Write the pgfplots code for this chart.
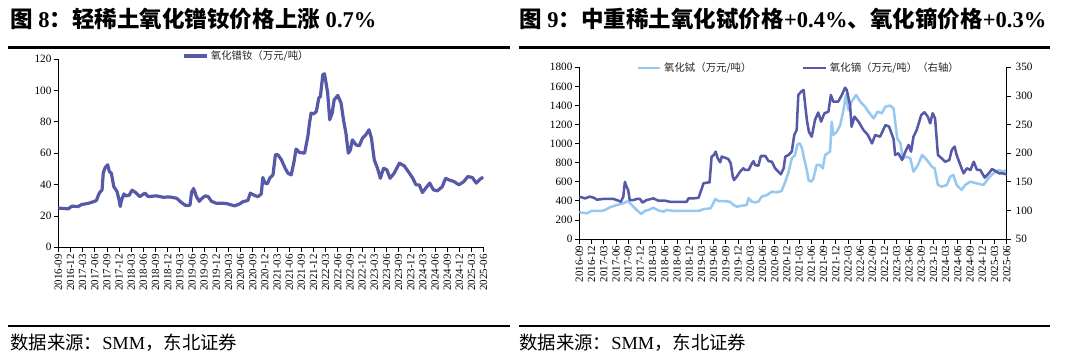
\documentclass[border=0pt]{standalone}
\usepackage{fontspec}
\setmainfont{Liberation Serif}
\newfontfamily\cjk{Noto Sans CJK SC}
\usepackage{pgfplots}
\pgfplotsset{compat=1.18}
\definecolor{darkline}{RGB}{86,88,168}
\definecolor{lightline}{RGB}{150,200,240}
\pgfplotsset{
  common/.style={
    scale only axis,
    xmin=0, xmax=105,
    xtick={0,3,...,105},
    xticklabels={2016-09,2016-12,2017-03,2017-06,2017-09,2017-12,2018-03,2018-06,2018-09,2018-12,2019-03,2019-06,2019-09,2019-12,2020-03,2020-06,2020-09,2020-12,2021-03,2021-06,2021-09,2021-12,2022-03,2022-06,2022-09,2022-12,2023-03,2023-06,2023-09,2023-12,2024-03,2024-06,2024-09,2024-12,2025-03,2025-06},
    xticklabel style={rotate=90, anchor=east, font=\fontsize{8.2}{9}\selectfont, inner sep=1.5pt},
    yticklabel style={font=\fontsize{8.4}{9}\selectfont, inner sep=1.5pt},
    /pgf/number format/assume math mode=true,
    /pgf/number format/1000 sep={},
    tick align=outside,
    major tick length=3.5pt,
    axis line style={black, line width=0.6pt},
    tick style={black, line width=0.6pt},
    legend style={draw=none, fill=none, inner sep=0pt,
      font=\cjk\fontsize{7.8}{9}\selectfont, text=black!85},
    legend image code/.code={\draw[#1] (0pt,0pt) -- (17pt,0pt);},
  }
}
\begin{document}
\begin{tikzpicture}
\useasboundingbox (0,0) rectangle (810pt,267pt);
% titles
\node[anchor=west, inner sep=0pt, font=\fontsize{16.9}{18}\selectfont\bfseries] at (7.5pt,252.75pt)
  {{\cjk 图} 8{\cjk ：轻稀土氧化镨钕价格上涨} 0.7\%};
\node[anchor=west, inner sep=0pt, font=\fontsize{16.9}{18}\selectfont\bfseries] at (389.25pt,252.75pt)
  {{\cjk 图} 9{\cjk ：中重稀土氧化铽价格}+0.4\%{\cjk 、氧化镝价格}+0.3\%};
\draw[line width=1.9pt] (6pt,231.5pt) -- (382.5pt,231.5pt);
\draw[line width=1.9pt] (389.25pt,231.5pt) -- (787.5pt,231.5pt);
\draw[line width=1.4pt] (6pt,22.5pt) -- (382.5pt,22.5pt);
\draw[line width=1.4pt] (389.25pt,22.5pt) -- (787.5pt,22.5pt);
\node[anchor=west, inner sep=0pt, font=\fontsize{13.8}{15}\selectfont] at (7.5pt,9.75pt)
  {{\cjk 数据来源：}SMM{\cjk ，东北证券}};
\node[anchor=west, inner sep=0pt, font=\fontsize{13.8}{15}\selectfont] at (389.25pt,9.75pt)
  {{\cjk 数据来源：}SMM{\cjk ，东北证券}};

% left chart
\begin{axis}[common,
  at={(43.725pt,81.525pt)}, anchor=south west,
  width=319pt, height=141.2pt,
  ymin=0, ymax=120, ytick={0,20,...,120},
  axis x line*=bottom, axis y line*=left,
  legend style={at={(0.291,1.016)}, anchor=west},
]
\addplot[darkline, line width=2.4pt, line join=round] coordinates {
(0,25)(1,24.8)(2,24.6)(2.5,24.5)(3.3,26.2)(4.9,26)(5.8,27.3)(7.4,28)(8.6,29)(9.4,29.8)(10.1,34.5)(10.8,36.6)(11.1,47.5)(11.6,51)(12.2,52.6)(12.6,48.3)(13.1,47.2)(13.7,38.7)(14.5,35.5)(15,30.2)(15.3,26)(15.6,30)(16.2,34)(16.7,32.8)(17.5,33.2)(18.2,36.4)(19.1,34.9)(20.1,32.3)(21.4,34.5)(22.2,32.3)(24.2,32.8)(25.9,31.9)(27.5,32.1)(29.2,31.3)(30.4,28.5)(31.5,26.6)(32.5,26.8)(32.9,35)(33.4,37.5)(34.1,32.3)(34.8,29.3)(35.5,31.3)(36.3,32.8)(37,32.3)(37.8,29.3)(39,28.1)(40.3,28.1)(41.5,27.9)(42.7,27)(43.5,26.4)(44.8,27.7)(45.6,29.1)(46.8,29.8)(47.4,34.5)(48.5,33)(49.3,32.3)(50.1,34)(50.5,44.5)(51,41)(51.6,40.5)(52.2,44)(53,46.2)(53.6,59)(54.2,59)(55.1,55.7)(56,50.4)(56.7,47.2)(57.5,46.2)(58.2,54.7)(58.7,62.6)(59.6,60.4)(60.8,60)(61.6,70.6)(62,79)(62.4,85.5)(63.1,85.1)(63.7,86.6)(64.3,95.1)(64.7,96.2)(65.3,110)(65.7,110.6)(66.1,104.7)(66.5,98.3)(67,81.3)(67.6,85.5)(68.1,94)(69,96.8)(69.8,92)(70.4,81.3)(71,72.8)(71.6,60)(72.1,62)(72.6,68.5)(73.5,65.3)(74.3,64.7)(75.1,69.6)(75.9,71.7)(76.7,74.9)(77.3,69.6)(78,55.7)(78.8,50.4)(79.5,44)(80.3,50.4)(81.1,49.4)(81.9,44)(82.9,47.2)(84.2,53.6)(85.4,51.9)(86.4,48.3)(87.5,44)(88.3,39.8)(89.1,39.8)(89.9,34.9)(90.7,37.7)(91.7,40.9)(92.6,36.6)(93.6,36)(94.8,38.7)(95.6,44)(96.4,43)(97.7,41.9)(98.9,39.8)(100.1,41.9)(101.1,45.1)(102.2,44.5)(103.2,40.9)(104.1,43.4)(104.9,44.7)
};
\addlegendentry{氧化镨钕（万元/吨）}
\end{axis}

% right chart, left axis
\begin{axis}[common,
  at={(434.475pt,87.75pt)}, anchor=south west,
  width=320.55pt, height=128.78pt,
  ymin=0, ymax=1800, ytick={0,200,...,1800},
  axis x line*=bottom, axis y line*=left,
]
\addplot[lightline, line width=1.9pt, line join=round] coordinates {
(0,280)(1.8,269)(3,294)(5.5,294)(6.3,304)(7.5,332)(9.2,356)(10.8,374)(12,398)(12.9,356)(14.1,304)(15.2,262)(16.1,294)(17.4,311)(18.2,328)(19.4,300)(20.7,287)(21.5,304)(23.1,294)(25.6,294)(28,294)(29.7,297)(30.5,314)(32.2,321)(32.8,363)(33.4,419)(34.2,398)(35.4,398)(37,391)(37.9,356)(38.7,339)(39.9,349)(41.1,356)(41.6,426)(42.4,391)(43.2,384)(44,391)(44.8,444)(46.1,461)(47.3,496)(48.5,489)(49.7,503)(50.6,600)(51.4,700)(52.2,846)(53,881)(53.6,993)(54.2,1003)(54.7,951)(55.4,811)(55.9,723)(56.3,619)(56.9,601)(57.5,629)(58.3,776)(59.1,776)(59.8,741)(60.4,881)(61.6,916)(62,1230)(62.4,1090)(63.3,1125)(64.1,1195)(64.9,1353)(65.5,1510)(66.1,1353)(66.9,1440)(68,1510)(69,1440)(70.2,1387)(71,1335)(72.3,1265)(73.3,1335)(74.3,1318)(75.2,1387)(76.4,1398)(77.2,1370)(78.1,1055)(78.9,1003)(79.5,846)(80.3,863)(81.3,846)(82.1,706)(83.2,776)(84.2,881)(85.4,828)(86.6,758)(87.3,741)(88.1,566)(89,549)(90.3,566)(91.1,654)(91.9,671)(92.7,566)(93.9,514)(94.8,566)(96,601)(97.6,584)(99.3,566)(100.5,636)(101.7,688)(103,723)(104.2,706)(105,723)
};
\end{axis}

% right chart, right axis
\begin{axis}[common,
  at={(434.475pt,87.75pt)}, anchor=south west,
  width=320.55pt, height=128.78pt,
  ymin=50, ymax=350, ytick={50,100,...,350},
  axis x line=none, axis y line*=right,
  yticklabel style={inner sep=3pt},
  legend columns=2,
  legend style={at={(0.1327,0.996)}, anchor=west,
    /tikz/every even column/.append style={column sep=36pt}},
]
\addlegendimage{lightline, line width=1.9pt}
\addlegendentry{氧化铽（万元/吨）}
\addplot[darkline, line width=1.9pt, line join=round] coordinates {
(0,124)(1.4,121)(2.6,124)(3.6,122)(4.3,118.7)(5.9,120)(8.4,120)(9.6,117)(10.2,115)(10.8,124)(11.2,150)(11.6,141.5)(12,135.6)(12.4,118)(13.3,118)(14.1,120)(14.9,120)(15.5,113.5)(16.5,118)(18.2,121)(19.4,117)(21,117)(22.3,115)(23.9,115)(25.6,115)(26.4,115)(26.8,121)(28,121)(29.3,122)(30.1,138.5)(30.5,147.3)(31.3,148.4)(32,149)(32.5,193.9)(33.1,196.8)(33.5,202.6)(34,191)(34.6,184)(35,194)(35.8,192)(36.6,189.8)(37.2,182)(37.7,159)(38,153)(38.7,159)(39.5,167.7)(40.3,173.5)(40.7,170.6)(41.6,170.6)(42.4,182)(42.8,186)(43.2,179)(44,178)(44.6,195)(45.7,195)(46.5,186)(47.3,185)(48.1,173.5)(48.9,167.7)(49.5,163)(50.2,173.5)(50.6,193.9)(51.4,196.8)(52.2,202.6)(52.8,231.7)(53.4,240.5)(53.8,301.6)(54.5,307.5)(55.1,310.4)(55.5,284)(55.9,258)(56.4,237.6)(57.1,228.8)(57.9,258)(58.7,271)(59.4,255)(60.2,269.6)(61.2,272.5)(61.8,301.6)(62.4,290)(63.6,290)(64.5,301.6)(65.3,314.4)(65.7,310.4)(66.5,284)(66.9,246)(67.6,263.8)(68.6,255)(69.8,240.5)(70.9,231.7)(71.9,217)(72.7,231.7)(73.9,228.8)(75.2,249)(76.1,246.3)(77.2,224.8)(77.6,196.8)(78.4,199.7)(79.3,188)(80.1,202.6)(80.9,214.3)(81.5,202.6)(82.1,228.8)(82.9,240.5)(84,266.7)(84.8,271.4)(85.6,263.8)(86.2,252)(86.8,269.6)(87.4,260.9)(88.1,196.8)(89,191)(89.9,185)(90.9,188)(91.5,205.5)(92.2,211.4)(92.7,196.8)(93.6,179.3)(94.4,164.8)(95.2,173.5)(96.1,170.6)(96.9,185)(97.7,170.6)(98.5,170.6)(99.6,157.2)(100.6,164.8)(101.4,172.3)(102.2,168.8)(103.1,164.8)(103.9,164.8)(105,163)
};
\addlegendentry{氧化镝（万元/吨）（右轴）}
\end{axis}
\end{tikzpicture}
\end{document}
